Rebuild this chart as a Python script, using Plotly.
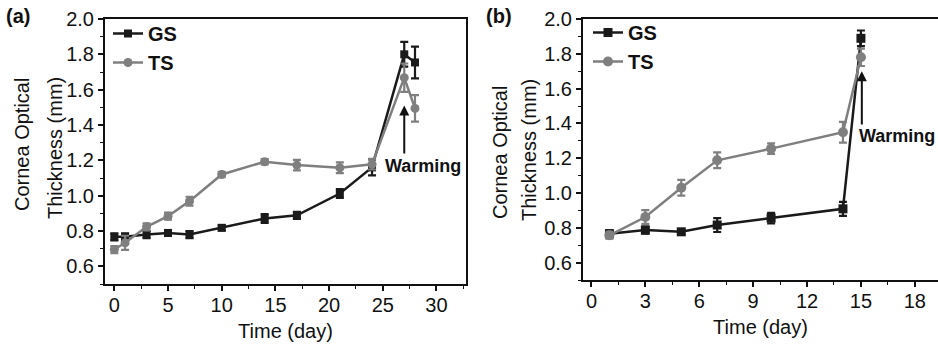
import plotly.graph_objects as go

# Panel (a)
a_days = [0, 1, 3, 5, 7, 10, 14, 17, 21, 24, 27, 28]
a_gs = [0.767, 0.767, 0.78, 0.789, 0.78, 0.818, 0.871, 0.889, 1.012, 1.16, 1.80, 1.754]
a_gs_err = [0.02, 0.02, 0.02, 0.015, 0.02, 0.015, 0.025, 0.02, 0.025, 0.045, 0.07, 0.09]
a_ts = [0.695, 0.733, 0.824, 0.884, 0.969, 1.12, 1.192, 1.173, 1.158, 1.178, 1.668, 1.494]
a_ts_err = [0.02, 0.04, 0.02, 0.02, 0.025, 0.015, 0.015, 0.03, 0.03, 0.03, 0.08, 0.075]

# Panel (b)
b_days = [1, 3, 5, 7, 10, 14, 15]
b_gs = [0.766, 0.787, 0.777, 0.816, 0.856, 0.909, 1.889]
b_gs_err = [0.02, 0.02, 0.015, 0.04, 0.03, 0.04, 0.045]
b_ts = [0.757, 0.862, 1.03, 1.188, 1.255, 1.349, 1.78]
b_ts_err = [0.02, 0.04, 0.045, 0.045, 0.03, 0.06, 0.05]

a_xticks = [0, 5, 10, 15, 20, 25, 30]
b_xticks = [0, 3, 6, 9, 12, 15, 18]
y_ticks = [0.6, 0.8, 1.0, 1.2, 1.4, 1.6, 1.8, 2.0]

GS_C = "#1a1a1a"
TS_C = "#7f7f7f"
FONT = "Arial, 'Liberation Sans', Helvetica, sans-serif"
FS = 20

fig = go.Figure()

def add(x, y, e, name, color, sym, size, xa, ya, leg):
    fig.add_trace(go.Scatter(
        x=x, y=y, mode="lines+markers", name=name,
        line=dict(color=color, width=2.5),
        marker=dict(symbol=sym, size=size, color=color),
        error_y=dict(type="data", array=e, color=color, thickness=2.2, width=4),
        xaxis=xa, yaxis=ya, legend=leg,
    ))

add(a_days, a_gs, a_gs_err, "<b>GS</b>", GS_C, "square", 8, "x", "y", "legend")
add(a_days, a_ts, a_ts_err, "<b>TS</b>", TS_C, "circle", 9, "x", "y", "legend")
add(b_days, b_gs, b_gs_err, "<b>GS</b>", GS_C, "square", 9, "x2", "y2", "legend2")
add(b_days, b_ts, b_ts_err, "<b>TS</b>", TS_C, "circle", 10, "x2", "y2", "legend2")

base = dict(
    showline=True, linecolor="#111", linewidth=2, ticks="outside",
    ticklen=5, tickwidth=1.5, tickcolor="#111", showgrid=False, zeroline=False,
    automargin=False,
    tickfont=dict(family=FONT, size=FS, color="#111"),
)

def minor(dt, t0):
    return dict(ticks="outside", ticklen=3, tickwidth=1.2, tickcolor="#111", dtick=dt, tick0=t0)

xtitle = dict(text="Time (day)", font=dict(family=FONT, size=FS, color="#111"), standoff=9)

fig.update_layout(
    template="none",
    width=938, height=347, margin=dict(l=0, r=0, t=0, b=0, autoexpand=False),
    paper_bgcolor="white", plot_bgcolor="white",
    font=dict(family=FONT, color="#111", size=FS),
    xaxis=dict(domain=[105/938, 466/938], range=[-0.87, 32.75], tickvals=a_xticks,
               mirror=True, minor=minor(2.5, 0), title=xtitle, anchor="y",
               ticklabelstandoff=-3, **base),
    yaxis=dict(domain=[1-284/347, 1-19/347], range=[0.5, 2.0], tickvals=y_ticks,
               tickformat=".1f", mirror=True, anchor="x", minor=minor(0.1, 0.5), **base),
    xaxis2=dict(domain=[583/938, 1.0], range=[-0.47, 19.29], tickvals=b_xticks,
                mirror=True, minor=minor(1.5, 0), title=xtitle, anchor="y2",
                ticklabelstandoff=-3, **base),
    yaxis2=dict(domain=[1-280/347, 1-19/347], range=[0.5, 2.0], tickvals=y_ticks,
                tickformat=".1f", mirror=False, anchor="x2", minor=minor(0.1, 0.5), **base),
    legend=dict(x=108/938, y=1-14/347, xanchor="left", yanchor="top",
                bgcolor="rgba(0,0,0,0)", font=dict(family=FONT, size=FS, color="#111"),
                tracegroupgap=0, itemwidth=30),
    legend2=dict(x=588/938, y=1-13/347, xanchor="left", yanchor="top",
                 bgcolor="rgba(0,0,0,0)", font=dict(family=FONT, size=FS, color="#111"),
                 tracegroupgap=0, itemwidth=30),
    showlegend=True,
)

def ylab(text, xpx, ypx):
    return dict(text=text, x=xpx/938, y=1-ypx/347, xref="paper", yref="paper",
                xanchor="center", yanchor="middle", textangle=-90, showarrow=False,
                font=dict(size=FS))

annos = [
    dict(text="<b>(a)</b>", x=4/938, y=1-16/347, xref="paper", yref="paper",
         xanchor="left", yanchor="middle", showarrow=False, font=dict(size=FS)),
    dict(text="<b>(b)</b>", x=484/938, y=1-16/347, xref="paper", yref="paper",
         xanchor="left", yanchor="middle", showarrow=False, font=dict(size=FS)),
    ylab("Cornea Optical", 22, 145),
    ylab("Thickness (mm)", 55, 148),
    ylab("Cornea Optical", 500, 153),
    ylab("Thickness (mm)", 529, 150),
    dict(text="<b>Warming</b>", x=28.7, y=1.17, xref="x", yref="y", showarrow=False,
         font=dict(size=18)),
    dict(text="<b>Warming</b>", x=17.0, y=1.33, xref="x2", yref="y2", showarrow=False,
         font=dict(size=18)),
    dict(text="", x=27, y=1.51, ax=27, ay=1.23, xref="x", yref="y", axref="x", ayref="y",
         showarrow=True, arrowhead=2, arrowsize=1, arrowwidth=2, arrowcolor="#111"),
    dict(text="", x=15.05, y=1.70, ax=15.05, ay=1.385, xref="x2", yref="y2", axref="x2", ayref="y2",
         showarrow=True, arrowhead=2, arrowsize=1, arrowwidth=2, arrowcolor="#111"),
]
fig.update_layout(annotations=annos)

fig.write_html(
    "out.html",
    config={"displayModeBar": False},
    post_script="document.body.style.margin='0';document.body.style.padding='0';"
                "document.body.style.overflow='hidden';",
)
